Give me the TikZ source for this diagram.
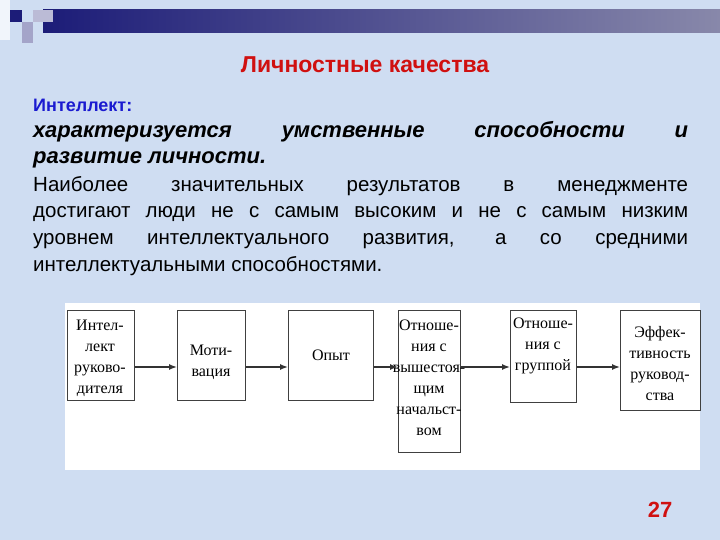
\documentclass[tikz,border=0pt]{standalone}
\usepackage{fontspec}
\setmainfont{Liberation Sans}
\newfontfamily\dgfont{Liberation Serif}
\usetikzlibrary{arrows.meta}
\definecolor{bgc}{HTML}{CFDDF2}
\definecolor{navy}{HTML}{1C1C78}
\definecolor{navyl}{HTML}{8888AA}
\definecolor{titlered}{HTML}{D01010}
\definecolor{kblue}{HTML}{1A1AD0}
\tikzset{
  dbox/.style={draw=black!75,line width=1.3pt,fill=white,anchor=north west,inner sep=0pt},
  dtxt/.style={font=\dgfont\fontsize{16}{21}\selectfont,align=center,inner sep=0pt,anchor=north},
  conn/.style={-{Latex[length=8pt,width=6pt]},line width=1.4pt,black!80}
}
\begin{document}
\begin{tikzpicture}[x=1pt,y=-1pt]
\useasboundingbox (0,0) rectangle (720,540);
\fill[bgc] (0,0) rectangle (720,540);
% top decoration
\shade[left color=navy,right color=navyl] (43,10) rectangle (720,33);
\fill[navy] (10,10) rectangle (22,22);
\fill[white!70!bgc] (0,0) rectangle (10,40);
\fill[navy!40!white] (22,22) rectangle (33,43);
\fill[navy!30!white] (33,10) rectangle (53,22);
% texts
\node[font=\bfseries\fontsize{23}{25}\selectfont,text=titlered] (title) at (365,65) {Личностные качества};
\node[font=\bfseries\fontsize{18}{19}\selectfont,text=kblue,anchor=west,inner sep=0pt] (intel) at (33,105) {Интеллект:};
\node[anchor=north west,inner sep=0pt,text width=655pt,align=justify,font=\itshape\bfseries\fontsize{22}{26}\selectfont] (ital) at (33,121) {характеризуется умственные способности и\linebreak развитие личности.};
\node[anchor=north west,inner sep=0pt,text width=655pt,align=justify,font=\fontsize{20.5}{26.7}\selectfont] (body) at (33,176) {Наиболее значительных результатов в менеджменте\linebreak достигают люди не с самым высоким и не с самым низким\linebreak уровнем интеллектуального развития, а со средними\linebreak интеллектуальными способностями.};
% diagram
\fill[white] (65,303) rectangle (700,470);
\node[dbox,minimum width=67pt,minimum height=90pt] (b1) at (67,310) {};
\node[dbox,minimum width=68pt,minimum height=90pt] (b2) at (177,310) {};
\node[dbox,minimum width=85pt,minimum height=90pt] (b3) at (288,310) {};
\node[dbox,minimum width=62pt,minimum height=142pt] (b4) at (398,310) {};
\node[dbox,minimum width=66pt,minimum height=92pt] (b5) at (510,310) {};
\node[dbox,minimum width=80pt,minimum height=100pt] (b6) at (620,310) {};
\node[dtxt] (t1) at (100,320) {Интел-\\лект\\руково-\\дителя};
\node[dtxt] (t2) at (211,345) {Моти-\\вация};
\node[dtxt] (t3) at (331,350) {Опыт};
\node[dtxt] (t4) at (429,320) {Отноше-\\ния с\\вышестоя-\\щим\\начальст-\\вом};
\node[dtxt] (t5) at (543,318) {Отноше-\\ния с\\группой};
\node[dtxt] (t6) at (660,326) {Эффек-\\тивность\\руковод-\\ства};
\foreach \a/\b in {b1/b2,b2/b3,b3/b4,b4/b5,b5/b6}
  \draw[conn] (\a.east |- 0,367) -- (\b.west |- 0,367);
\node[font=\bfseries\fontsize{22}{25}\selectfont,text=titlered] (pg) at (660,510) {27};
\end{tikzpicture}
\end{document}
